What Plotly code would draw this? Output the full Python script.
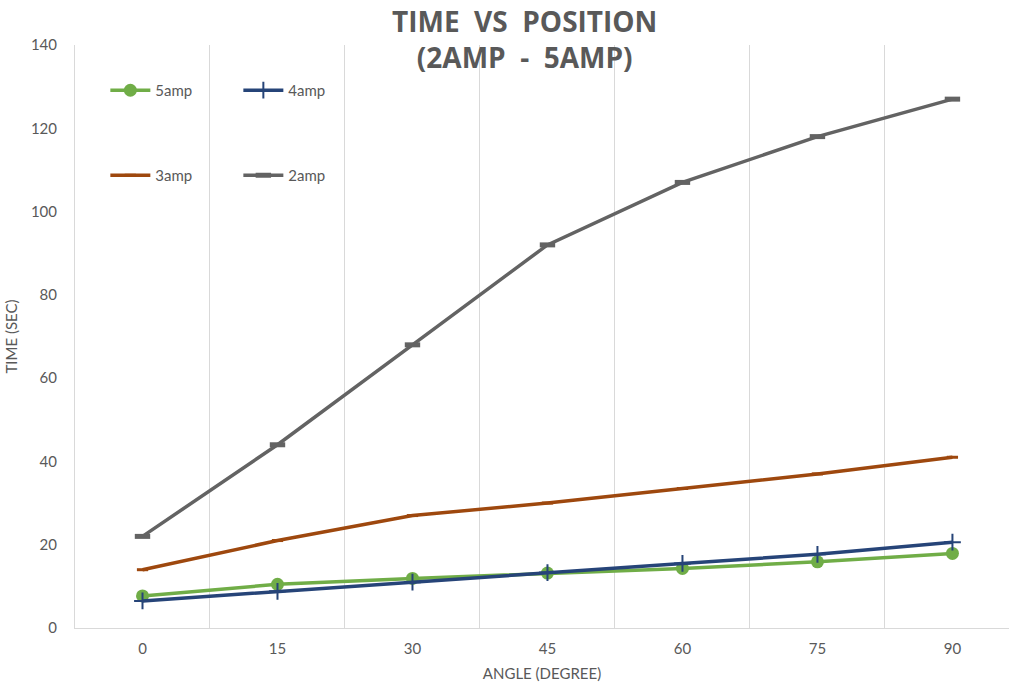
import plotly.graph_objects as go

# Angle categories (degrees) and measured times (seconds)
angles = ["0", "15", "30", "45", "60", "75", "90"]
time_5amp = [7.7, 10.5, 11.9, 13.2, 14.3, 15.9, 17.9]
time_4amp = [6.5, 8.8, 11.0, 13.3, 15.5, 17.7, 20.6]
time_3amp = [14.0, 21.0, 27.0, 30.0, 33.5, 37.0, 41.0]
time_2amp = [22.0, 44.0, 68.0, 92.0, 107.0, 118.0, 127.0]

TEXT = "#595959"
GRID = "#D9D9D9"
FONT = "Lato"

series = [
    ("5amp", time_5amp, "#70AD47", dict(symbol="circle", size=13, color="#70AD47"), "legend"),
    ("4amp", time_4amp, "#264478", dict(symbol="cross-thin", size=12,
                                        line=dict(width=2, color="#264478")), "legend"),
    ("3amp", time_3amp, "#9E480E", dict(symbol="line-ew", size=8,
                                        line=dict(width=3, color="#9E480E")), "legend2"),
    ("2amp", time_2amp, "#636363", dict(symbol="line-ew", size=11,
                                        line=dict(width=5, color="#636363")), "legend2"),
]

fig = go.Figure()
for name, vals, color, marker, leg in series:
    fig.add_trace(go.Scatter(
        x=angles, y=vals, name=name, mode="lines+markers",
        line=dict(color=color, width=3.5),
        marker=marker, legend=leg,
    ))

legend_common = dict(
    orientation="h", xanchor="left", yanchor="middle",
    itemwidth=40, entrywidthmode="pixels", entrywidth=78,
    font=dict(family=FONT, size=15, color=TEXT),
    bgcolor="rgba(0,0,0,0)", itemclick=False,
)

fig.update_layout(
    width=1009, height=690,
    margin=dict(l=75, r=0, t=45, b=62),
    paper_bgcolor="white", plot_bgcolor="white",
    font=dict(family=FONT, color=TEXT),
    legend=dict(x=0.0325, y=0.922, **legend_common),
    legend2=dict(x=0.0325, y=0.776, **legend_common),
    xaxis=dict(
        type="category", range=[-0.5, 6.419],
        tickson="boundaries", showgrid=True, gridcolor=GRID, gridwidth=1,
        showline=True, linecolor=GRID, linewidth=1,
        ticks="", tickfont=dict(family=FONT, size=15, color=TEXT),
        ticklabelstandoff=7, zeroline=False,
        title=dict(text="ANGLE (DEGREE)", font=dict(family=FONT, size=15, color=TEXT),
                   standoff=12),
    ),
    yaxis=dict(
        range=[0, 140], dtick=20, showgrid=False, zeroline=False,
        showline=True, linecolor=GRID, linewidth=1,
        ticks="", tickfont=dict(family=FONT, size=15, color=TEXT),
        ticklabelstandoff=14,
        title=dict(text="TIME (SEC)", font=dict(family=FONT, size=15, color=TEXT),
                   standoff=9),
    ),
    annotations=[dict(
        text="<b>TIME  VS  POSITION</b><br><b>(2AMP  -  5AMP)</b>",
        xref="paper", yref="paper", x=(524 - 75) / 934, y=1.0, xanchor="center",
        yanchor="bottom", yshift=-33, showarrow=False, align="center",
        font=dict(family="Open Sans", size=28, color=TEXT),
    )],
)

fig.write_html("out.html")
